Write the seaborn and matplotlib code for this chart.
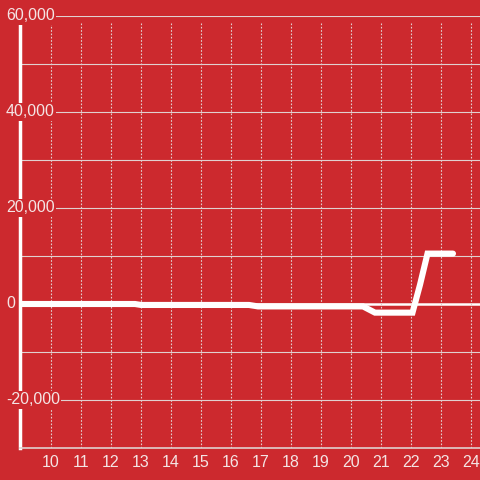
import matplotlib
matplotlib.use("Agg")
import matplotlib.pyplot as plt
import seaborn as sns
import pandas as pd

# data
hours = [8.9, 12.8, 13.0, 16.6, 16.9, 20.4, 20.8, 22.05, 22.3, 22.55, 23.4]
values = [0, 0, -200, -200, -500, -500, -1800, -1800, 4000, 10500, 10500]
x_ticks = list(range(10, 25))
y_grid = list(range(-30000, 60001, 10000))
y_labels = [-20000, 0, 20000, 40000, 60000]

bg = "#cc292e"
grid_col = "#e0d0d0"
text_col = "#f4e4e4"

sns.set_style("dark", {"axes.facecolor": bg, "figure.facecolor": bg})
plt.rcParams["font.family"] = ["Liberation Sans", "DejaVu Sans"]

df = pd.DataFrame({"hour": hours, "value": values})

fig = plt.figure(figsize=(4.8, 4.8), dpi=100)
ax = fig.add_axes([20 / 480, 32 / 480, 460 / 480, 432 / 480])
ax.set_facecolor(bg)

# grid
for y in y_grid:
    if y == 0:
        ax.axhline(y, color="white", lw=1.8, zorder=1)
    elif y != -30000:
        ax.axhline(y, color=grid_col, lw=0.8, zorder=1)
for x in x_ticks:
    ax.axvline(x, ymin=0, ymax=0.985, color=grid_col, lw=0.8,
               linestyle=(0, (1.5, 1.5)), zorder=1)

sns.lineplot(data=df, x="hour", y="value", color="white", lw=4.4, ax=ax,
             zorder=3, solid_joinstyle="miter")

ax.set_xlim(8.967, 24.3)
ax.set_ylim(-30000, 60000)
ax.set_xticks(x_ticks)
ax.set_xticklabels([str(t) for t in x_ticks])
ax.set_yticks([])
ax.tick_params(axis="x", length=0, pad=5, labelsize=11.5, colors=text_col)
ax.set_xlabel("")
ax.set_ylabel("")

for s in ["top", "right"]:
    ax.spines[s].set_visible(False)
ax.spines["bottom"].set_color(grid_col)
ax.spines["bottom"].set_linewidth(1.2)
ax.spines["left"].set_color("white")
ax.spines["left"].set_linewidth(2.5)
ax.spines["left"].set_bounds(-30000, 58300)
ax.spines["left"].set_zorder(2)

for v in y_labels:
    ax.text(-14 / 460, v, f"{v:,}", transform=ax.get_yaxis_transform(),
            ha="left", va="center", fontsize=11.5, color=text_col, zorder=5,
            bbox=dict(facecolor=bg, edgecolor="none", pad=1.0))

fig.savefig("out.png", dpi=100, facecolor=bg)
